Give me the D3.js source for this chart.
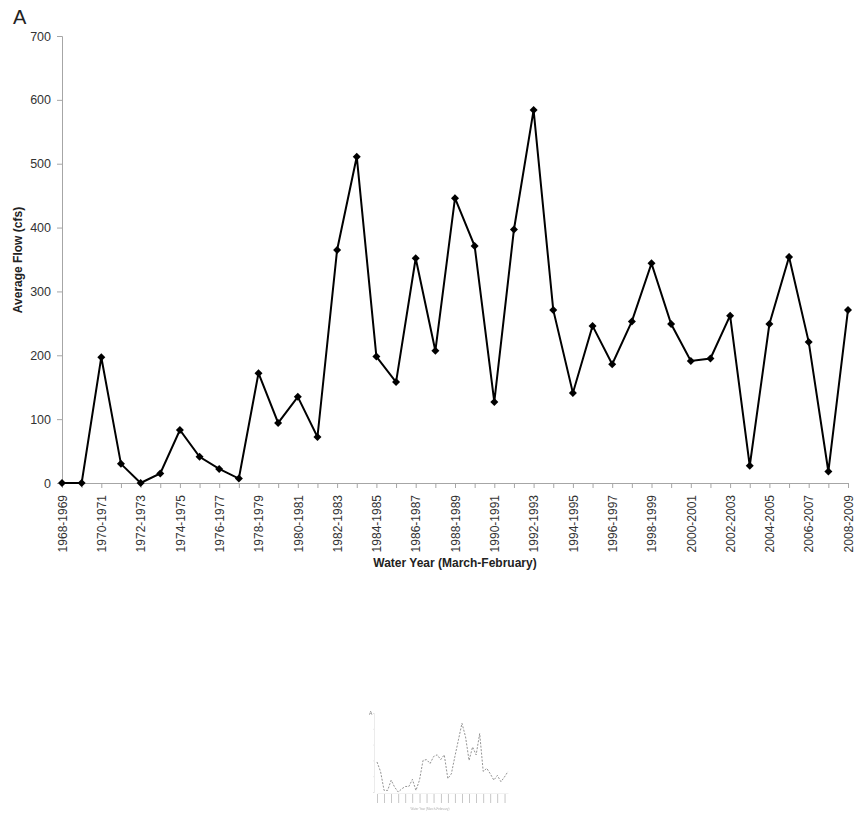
<!DOCTYPE html>
<html>
<head>
<meta charset="utf-8">
<script src="https://cdn.jsdelivr.net/npm/d3@7"></script>
<style>
  body { margin: 0; background: #fff; }
  svg { display: block; font-family: "Liberation Sans", Arial, sans-serif; }
</style>
</head>
<body>
<div id="chart"></div>
<script>
// water years, March-February
var years = d3.range(1968, 2009).map(function (y) { return y + "-" + (y + 1); });

// average flow (cfs)
var flow = [0, 0, 197, 30, 0, 15, 83, 41, 22, 7,
            172, 94, 135, 72, 365, 511, 198, 158, 352, 207,
            446, 371, 127, 397, 584, 271, 141, 246, 186, 253,
            344, 249, 191, 195, 262, 27, 249, 354, 221, 18,
            271];

var yTicks = [0, 100, 200, 300, 400, 500, 600, 700];

// the little thumbnail under the chart
var thumbValues = [38, 26, 2, 2, 15, 6, 0, 4, 7, 7, 16, 2, 15, 40, 41, 36, 45, 47, 41,
                   47, 17, 23, 45, 66, 87, 70, 40, 57, 47, 74, 26, 30, 23, 15, 21, 13, 19, 26];

var W = 858, H = 815;

var svg = d3.select("#chart")
    .append("svg")
    .attr("width", W)
    .attr("height", H);

// panel letter
svg.append("text")
    .attr("x", 13)
    .attr("y", 24)
    .style("font-size", "20px")
    .style("fill", "#222")
    .text("A");

var x = d3.scalePoint()
    .domain(years)
    .range([62, 848]);

var y = d3.scaleLinear()
    .domain([0, 700])
    .range([483, 36]);

// Y axis
var yAxis = svg.append("g")
    .attr("transform", "translate(62,0)")
    .call(d3.axisLeft(y).tickValues(yTicks).tickSize(5).tickPadding(6));
yAxis.selectAll("path, line").attr("stroke", "#a6a6a6");
yAxis.selectAll("text")
    .style("font-size", "12.5px")
    .style("fill", "#333")
    .style("font-family", "Liberation Sans, Arial, sans-serif");

// X axis
var xAxis = svg.append("g")
    .attr("transform", "translate(0,483)")
    .call(d3.axisBottom(x).tickSize(5).tickSizeOuter(0)
        .tickFormat(function (d, i) { return i % 2 === 0 ? d : ""; }));
xAxis.select(".domain").attr("d", "M62,0.5H848");
xAxis.selectAll("path, line").attr("stroke", "#a6a6a6");
xAxis.selectAll("text")
    .attr("transform", "rotate(-90)")
    .attr("text-anchor", "end")
    .attr("x", -12)
    .attr("y", 0)
    .attr("dy", "0.35em")
    .style("font-size", "12px")
    .style("fill", "#333")
    .style("font-family", "Liberation Sans, Arial, sans-serif");

// axis titles
svg.append("text")
    .attr("x", 455)
    .attr("y", 567)
    .attr("text-anchor", "middle")
    .style("font-size", "12px")
    .style("font-weight", "bold")
    .style("fill", "#222")
    .text("Water Year (March-February)");

svg.append("text")
    .attr("transform", "translate(22,260) rotate(-90)")
    .attr("text-anchor", "middle")
    .style("font-size", "12px")
    .style("font-weight", "bold")
    .style("fill", "#222")
    .text("Average Flow (cfs)");

// line
var line = d3.line()
    .x(function (d, i) { return x(years[i]); })
    .y(function (d) { return y(d); });

svg.append("path")
    .datum(flow)
    .attr("d", line)
    .attr("fill", "none")
    .attr("stroke", "#000")
    .attr("stroke-width", 2);

// diamond markers (square turned 45deg, as excel draws them)
svg.selectAll("mymarker")
    .data(flow)
    .enter()
    .append("path")
    .attr("d", d3.symbol().type(d3.symbolSquare).size(32))
    .attr("transform", function (d, i) {
        return "translate(" + x(years[i]) + "," + y(d) + ") rotate(45)";
    })
    .attr("fill", "#000");

// thumbnail copy at the bottom
var tx = d3.scalePoint()
    .domain(d3.range(thumbValues.length))
    .range([377, 508]);
var ty = d3.scaleLinear()
    .domain([0, 100])
    .range([792, 713]);

var thumb = svg.append("g").attr("opacity", 0.8);

thumb.append("text")
    .attr("x", 369)
    .attr("y", 715)
    .style("font-size", "5px")
    .style("fill", "#555")
    .text("A");

thumb.append("g")
    .attr("transform", "translate(374,0)")
    .call(d3.axisLeft(ty).ticks(7).tickSize(1).tickFormat(""))
    .selectAll("path, line").attr("stroke", "#ccc").attr("stroke-width", 0.5);

thumb.append("g")
    .attr("transform", "translate(0,793)")
    .call(d3.axisBottom(tx).tickSize(0).tickPadding(2)
        .tickFormat(function (d, i) { return i % 2 === 0 ? "|" : ""; }))
    .call(function (g) {
        g.select(".domain").attr("stroke", "#ddd").attr("stroke-width", 0.5);
        g.selectAll("text").style("font-size", "8px").style("fill", "#999")
            .attr("transform", "scale(1,1.1)");
    });

thumb.append("text")
    .attr("x", 430)
    .attr("y", 810)
    .attr("text-anchor", "middle")
    .style("font-size", "3px")
    .style("fill", "#999")
    .text("Water Year (March-February)");

thumb.append("path")
    .datum(thumbValues)
    .attr("d", d3.line()
        .x(function (d, i) { return tx(i); })
        .y(function (d) { return ty(d); }))
    .attr("fill", "none")
    .attr("stroke", "#555")
    .attr("stroke-width", 0.8)
    .attr("stroke-dasharray", "2,1.5");
</script>
</body>
</html>
